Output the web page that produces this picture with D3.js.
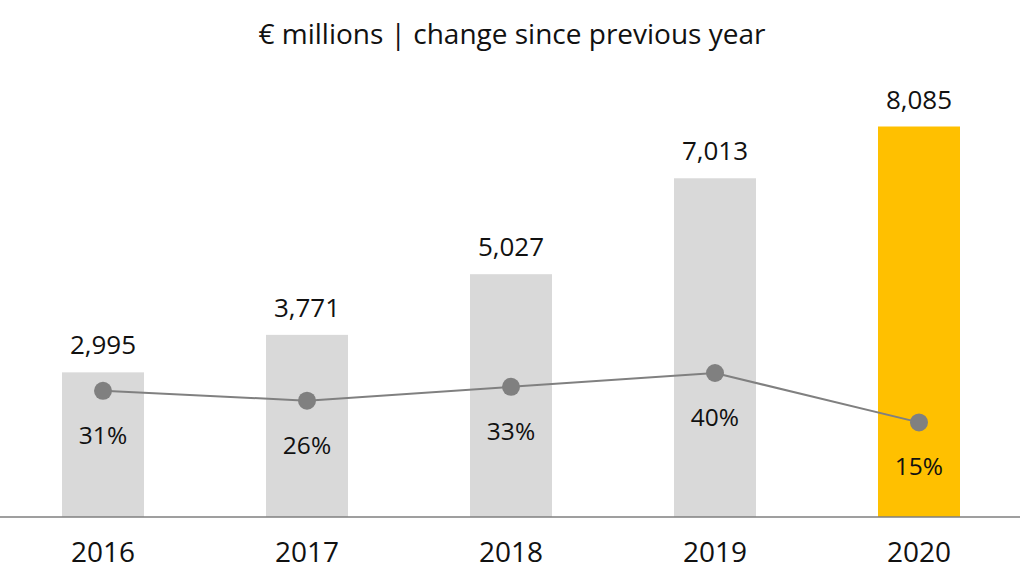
<!DOCTYPE html>
<html><head><meta charset="utf-8">
<script src="https://cdn.jsdelivr.net/npm/d3@7"></script>
<style>body{margin:0;background:#fff;} svg{display:block;} text{font-family:"Open Sans",sans-serif;fill:#111;}</style>
</head><body>
<svg id="c" width="1024" height="576"></svg>
<script>
const years = ["2016","2017","2018","2019","2020"];
const values = [2995, 3771, 5027, 7013, 8085];
const changes = [31, 26, 33, 40, 15];
const valueLabels = ["2,995","3,771","5,027","7,013","8,085"];
const changeLabels = ["31%","26%","33%","40%","15%"];
const title = "€ millions | change since previous year";

const svg = d3.select("#c");
const baseY = 517;
const x = d3.scaleBand().domain(years).range([62, 960]).paddingInner(0.598).paddingOuter(0);
const y = d3.scaleLinear().domain([0, 8085]).range([baseY, 126.5]);
const y2 = d3.scaleLinear().domain([0, 40]).range([452, 373]);

svg.append("text").attr("x", 512).attr("y", 44).attr("text-anchor","middle")
  .style("font-size","28px").text(title);

svg.selectAll("rect.bar").data(years).join("rect").attr("class","bar")
  .attr("x", d => x(d)).attr("width", x.bandwidth())
  .attr("y", (d,i) => y(values[i])).attr("height", (d,i) => baseY - y(values[i]))
  .attr("fill", (d,i) => i === 4 ? "#FFC000" : "#D9D9D9");

svg.selectAll("text.val").data(years).join("text").attr("class","val")
  .attr("x", d => x(d) + x.bandwidth()/2).attr("y", (d,i) => y(values[i]) - 18)
  .attr("text-anchor","middle").style("font-size","26px").text((d,i) => valueLabels[i]);

const axis = d3.axisBottom(x).tickSize(0).tickPadding(25);
const g = svg.append("g").attr("transform", `translate(0,${baseY})`).call(axis);
g.select(".domain").attr("stroke","#7f7f7f").attr("stroke-width",1.3).attr("d","M0,0H1020");
g.selectAll(".tick text").style("font-size","28px").style("font-family","'Open Sans', sans-serif").attr("fill","#111");

const line = d3.line().x((d,i) => x(years[i]) + x.bandwidth()/2).y(d => y2(d));
svg.append("path").datum(changes).attr("d", line).attr("fill","none").attr("stroke","#808080").attr("stroke-width",2);
svg.selectAll("circle.pt").data(changes).join("circle").attr("class","pt")
  .attr("cx", (d,i) => x(years[i]) + x.bandwidth()/2).attr("cy", d => y2(d)).attr("r", 9).attr("fill","#808080");
svg.selectAll("text.chg").data(changes).join("text").attr("class","chg")
  .attr("x", (d,i) => x(years[i]) + x.bandwidth()/2).attr("y", d => y2(d) + 53)
  .attr("text-anchor","middle").style("font-size","24.5px").text((d,i) => changeLabels[i]);
</script>
</body></html>
